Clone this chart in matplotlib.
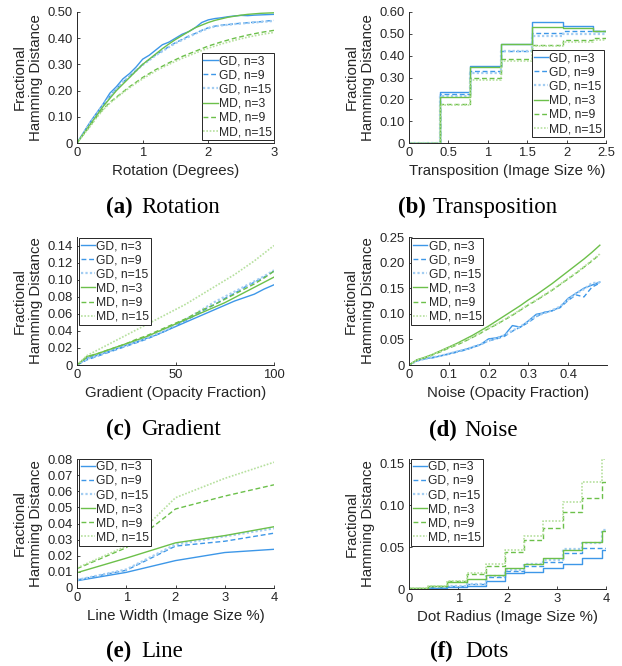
import matplotlib.pyplot as plt
from matplotlib.ticker import FuncFormatter

labels = ['GD, n=3', 'GD, n=9', 'GD, n=15', 'MD, n=3', 'MD, n=9', 'MD, n=15']

# (a) rotation
rot_deg = [0.0, 0.1, 0.2, 0.3, 0.4, 0.5, 0.6, 0.7, 0.8, 0.9, 1.0, 1.1, 1.2, 1.3, 1.4, 1.5,
           1.6, 1.7, 1.8, 1.9, 2.0, 2.1, 2.2, 2.3, 2.4, 2.5, 2.6, 2.7, 2.8, 2.9, 3.0]
rot_gd3 = [0, .04, .08, .115, .15, .19, .215, .245, .265, .29, .32, .335, .355, .375, .385, .40,
           .415, .425, .44, .46, .47, .475, .478, .482, .485, .487, .486, .488, .489, .49, .491]
rot_gd9 = [0, .038, .077, .112, .145, .178, .207, .232, .255, .278, .30, .318, .337, .352, .368, .383,
           .395, .408, .418, .43, .44, .446, .45, .452, .455, .457, .459, .461, .463, .466, .468]
rot_gd15 = [0, .037, .076, .11, .146, .176, .205, .233, .253, .276, .298, .316, .335, .35, .366, .381,
            .393, .405, .417, .428, .438, .445, .449, .451, .454, .456, .458, .46, .462, .464, .466]
rot_md3 = [0, .035, .07, .105, .14, .17, .2, .225, .25, .275, .30, .32, .34, .36, .378, .395,
           .41, .425, .44, .45, .46, .468, .474, .48, .484, .488, .491, .493, .495, .496, .497]
rot_md9 = [0, .033, .065, .1, .13, .155, .175, .195, .215, .232, .25, .265, .28, .293, .306, .318,
           .33, .34, .35, .36, .37, .378, .386, .393, .40, .406, .412, .417, .422, .426, .43]
rot_md15 = [0, .032, .063, .097, .127, .152, .172, .192, .211, .228, .245, .26, .275, .288, .3, .312,
            .323, .333, .343, .353, .362, .37, .378, .385, .392, .398, .404, .409, .414, .418, .422]

# (b) transposition (stairs)
trans_pct = [0, 0.39, 0.78, 1.17, 1.56, 1.95, 2.34, 2.5]
trans_gd3 = [0, .235, .354, .454, .554, .535, .512, .512]
trans_gd9 = [0, .223, .328, .423, .505, .515, .513, .513]
trans_gd15 = [0, .215, .32, .42, .49, .50, .50, .50]
trans_md3 = [0, .212, .346, .454, .53, .528, .512, .512]
trans_md9 = [0, .18, .297, .385, .45, .472, .48, .48]
trans_md15 = [0, .174, .29, .377, .442, .462, .47, .47]

# (c) gradient
grad_pct = [0, 5, 10, 15, 20, 25, 30, 35, 40, 45, 50, 55, 60, 65, 70, 75, 80, 85, 90, 95, 100]
grad_gd3 = [0, .008, .011, .015, .019, .023, .027, .031, .035, .04, .045, .05, .055, .06, .065,
            .07, .075, .079, .083, .089, .094]
grad_gd9 = [0, .006, .01, .014, .018, .022, .026, .03, .035, .04, .046, .052, .058, .065, .071,
            .078, .084, .091, .097, .103, .11]
grad_gd15 = [0, .007, .011, .015, .019, .023, .027, .031, .036, .041, .047, .053, .06, .067, .074,
             .08, .086, .092, .098, .104, .111]
grad_md3 = [0, .01, .013, .017, .021, .025, .029, .033, .038, .043, .048, .053, .058, .063, .068,
            .073, .079, .085, .091, .097, .103]
grad_md9 = [0, .009, .013, .017, .021, .025, .03, .034, .039, .044, .049, .054, .06, .066, .071,
            .077, .083, .089, .095, .102, .11]
grad_md15 = [0, .011, .017, .023, .029, .035, .041, .047, .053, .059, .065, .071, .078, .085, .092,
             .099, .106, .114, .122, .131, .14]

# (d) noise
noise_frac = [0, .02, .04, .06, .08, .10, .12, .14, .16, .18, .20, .22, .24, .26, .28, .30,
              .32, .34, .36, .38, .40, .42, .44, .46, .48]
noise_gd3 = [0, .009, .013, .014, .018, .022, .026, .03, .035, .04, .051, .053, .058, .077, .074,
             .086, .099, .102, .106, .113, .13, .14, .15, .156, .162]
noise_gd9 = [0, .008, .012, .015, .018, .021, .025, .029, .034, .04, .047, .051, .056, .066, .074,
             .083, .094, .103, .106, .112, .126, .137, .133, .152, .16]
noise_gd15 = [0, .008, .012, .015, .018, .022, .026, .03, .035, .04, .048, .052, .058, .067, .075,
              .085, .096, .101, .107, .114, .128, .14, .148, .16, .161]
noise_md3 = [0, .01, .015, .021, .028, .035, .042, .05, .058, .067, .076, .086, .096, .106, .116,
             .127, .137, .148, .159, .171, .183, .195, .207, .22, .234]
noise_md9 = [0, .01, .014, .02, .026, .033, .039, .046, .054, .062, .071, .079, .088, .097, .107,
             .117, .126, .136, .146, .157, .168, .179, .191, .203, .216]
noise_md15 = [0, .01, .015, .021, .027, .034, .04, .047, .055, .063, .072, .08, .089, .098, .108,
              .118, .127, .137, .147, .158, .169, .18, .192, .204, .217]

# (e) line
line_pct = [0, 1, 2, 3, 4]
line_gd3 = [.0045, .0097, .017, .022, .024]
line_gd9 = [.005, .011, .026, .029, .034]
line_gd15 = [.005, .0115, .027, .032, .037]
line_md3 = [.0095, .0185, .028, .0325, .038]
line_md9 = [.012, .025, .049, .057, .064]
line_md15 = [.0125, .026, .056, .068, .078]

# (f) dots (stairs)
dot_pct = [0, .39, .78, 1.17, 1.56, 1.95, 2.34, 2.73, 3.12, 3.52, 3.91, 4.0]
dot_gd3 = [0, .001, .002, .004, .0095, .0186, .0205, .0245, .030, .0375, .047, .047]
dot_gd9 = [.0005, .002, .003, .006, .014, .022, .027, .032, .043, .049, .049, .049]
dot_gd15 = [.0005, .002, .003, .006, .015, .023, .03, .034, .048, .055, .07, .07]
dot_md3 = [.001, .004, .008, .012, .0166, .0245, .030, .0375, .046, .056, .069, .069]
dot_md9 = [.001, .004, .01, .018, .028, .044, .059, .073, .092, .109, .128, .128]
dot_md15 = [.001, .004, .01, .019, .030, .047, .063, .081, .104, .128, .155, .155]

plt.rcParams['font.family'] = 'Liberation Sans'
dark = '#262626'
styles = [
    dict(color='#3d97e8', ls='-', lw=1.0),
    dict(color='#3d97e8', ls=(0, (3.5, 2)), lw=1.0),
    dict(color='#a3cdf2', ls=(0, (1, 1)), lw=1.6),
    dict(color='#6cc04a', ls='-', lw=1.0),
    dict(color='#6cc04a', ls=(0, (3.5, 2)), lw=1.0),
    dict(color='#b6e09e', ls=(0, (1, 1)), lw=1.2),
]

W, H = 622, 666
fig = plt.figure(figsize=(W / 100, H / 100), dpi=100)

panels = [
    # box in px (left, top, right, bottom), x, series, xlabel, xlim, xticks, ylim, yticks, step, legend
    ((77, 12, 274, 143), rot_deg, [rot_gd3, rot_gd9, rot_gd15, rot_md3, rot_md9, rot_md15],
     'Rotation (Degrees)', (0, 3), [0, 1, 2, 3], (0, 0.5), [0, .1, .2, .3, .4, .5], False,
     ('lower right', (1.0, 0.023)), '(a)', 'Rotation', 106, 213),
    ((409, 12, 606, 143), trans_pct, [trans_gd3, trans_gd9, trans_gd15, trans_md3, trans_md9, trans_md15],
     'Transposition (Image Size %)', (0, 2.5), [0, .5, 1, 1.5, 2, 2.5], (0, 0.6),
     [0, .1, .2, .3, .4, .5, .6], True, ('lower right', (0.99, 0.046)), '(b)', 'Transposition', 398, 213),
    ((77, 237, 274, 365), grad_pct, [grad_gd3, grad_gd9, grad_gd15, grad_md3, grad_md9, grad_md15],
     'Gradient (Opacity Fraction)', (0, 100), [0, 50, 100], (0, 0.15),
     [0, .02, .04, .06, .08, .10, .12, .14], False, ('upper left', (0.01, 0.99)), '(c)', 'Gradient', 106, 435),
    ((409, 237, 607, 365), noise_frac, [noise_gd3, noise_gd9, noise_gd15, noise_md3, noise_md9, noise_md15],
     'Noise (Opacity Fraction)', (0, 0.498), [0, .1, .2, .3, .4], (0, 0.25),
     [0, .05, .10, .15, .20, .25], False, ('upper left', (0.01, 0.99)), '(d)', 'Noise', 429, 436),
    ((77, 459, 274, 588), line_pct, [line_gd3, line_gd9, line_gd15, line_md3, line_md9, line_md15],
     'Line Width (Image Size %)', (0, 4), [0, 1, 2, 3, 4], (0, 0.08),
     [0, .01, .02, .03, .04, .05, .06, .07, .08], False, ('upper left', (0.01, 1.0)), '(e)', 'Line', 106, 657),
    ((409, 459, 606, 589), dot_pct, [dot_gd3, dot_gd9, dot_gd15, dot_md3, dot_md9, dot_md15],
     'Dot Radius (Image Size %)', (0, 4), [0, 1, 2, 3, 4], (0, 0.155),
     [0, .05, .10, .15], True, ('upper left', (0.01, 1.0)), '(f)', 'Dots', 430, 657),
]

yfmt = FuncFormatter(lambda v, _: '0' if v == 0 else f'{v:.2f}')
xfmt = FuncFormatter(lambda v, _: f'{v:g}')

for (box, x, series, xlabel, xlim, xticks, ylim, yticks, step, leg,
     tag, name, cap_x, cap_y) in panels:
    l, t, r, b = box
    ax = fig.add_axes([l / W, 1 - b / H, (r - l) / W, (b - t) / H])
    for ys, st, lab in zip(series, styles, labels):
        if step:
            ax.step(x, ys, where='post', label=lab, **st)
        else:
            ax.plot(x, ys, label=lab, **st)
    ax.set_xlim(*xlim)
    ax.set_ylim(*ylim)
    ax.set_xticks(xticks)
    ax.set_yticks(yticks)
    ax.xaxis.set_major_formatter(xfmt)
    ax.yaxis.set_major_formatter(yfmt)
    for s in ['top', 'right']:
        ax.spines[s].set_visible(False)
    for s in ['left', 'bottom']:
        ax.spines[s].set_color(dark)
        ax.spines[s].set_linewidth(0.7)
    ax.tick_params(direction='in', length=2.5, width=0.6, colors=dark, labelsize=9.4, pad=3)
    ax.set_xlabel(xlabel, fontsize=10.8, color=dark, va='top')
    ax.xaxis.set_label_coords(0.5, -21 / (b - t))
    ax.set_ylabel('Fractional\nHamming Distance', fontsize=10.8, color=dark, va='center',
                  linespacing=1.25)
    ax.yaxis.set_label_coords(-0.25, 0.5)
    lg = ax.legend(loc=leg[0], bbox_to_anchor=leg[1], fontsize=8.7, frameon=True, fancybox=False,
                   framealpha=1, edgecolor=dark, borderpad=0.15, labelspacing=0.18,
                   handlelength=1.2, handletextpad=0.1, borderaxespad=0)
    lg.get_frame().set_linewidth(0.7)
    for txt in lg.get_texts():
        txt.set_color(dark)
    fig.text(cap_x / W, 1 - cap_y / H, tag, fontsize=16.5, family='Liberation Serif',
             weight='bold', va='baseline', ha='left')
    fig.text((cap_x + 35) / W, 1 - cap_y / H, name, fontsize=16.5, family='Liberation Serif',
             va='baseline', ha='left')

fig.savefig('out.png', dpi=100)
